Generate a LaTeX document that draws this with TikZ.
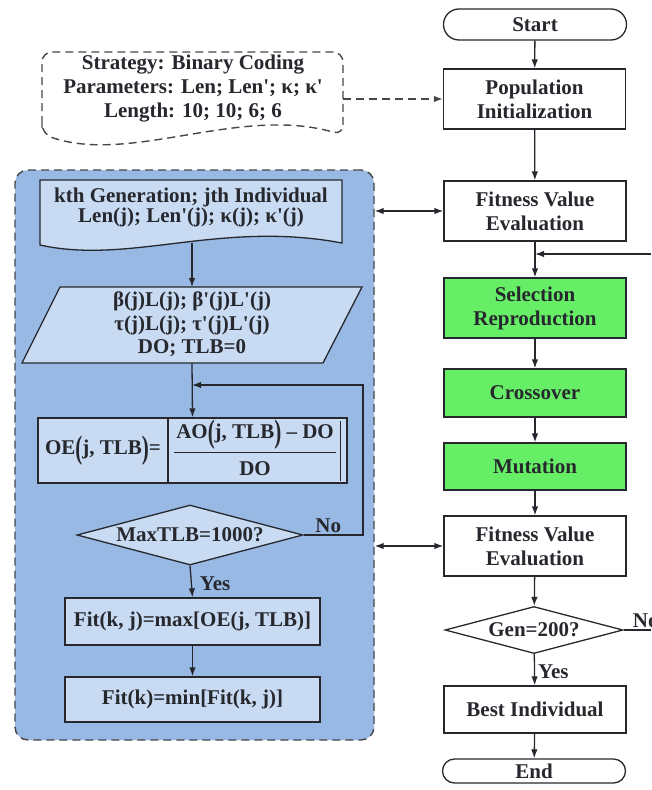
\documentclass[tikz,border=0pt]{standalone}
\usepackage{fontspec}
\setmainfont{Liberation Serif}
\usepackage{graphicx}
\usetikzlibrary{shapes.geometric,shapes.misc,arrows.meta,calc}
\definecolor{linec}{RGB}{38,40,46}
\definecolor{panelc}{RGB}{152,185,228}
\definecolor{innerc}{RGB}{200,219,243}
\definecolor{greenc}{RGB}{102,238,102}
\definecolor{dashc}{RGB}{70,70,75}
\newcommand{\tallp}[1]{\raisebox{-0.22em}{\scalebox{1}[1.55]{#1}}}
\newcommand{\sq}{\textquotesingle}
\begin{document}
\begin{tikzpicture}[x=1pt,y=-1pt,
  every node/.style={font=\fontsize{21}{24}\selectfont\bfseries, text=linec},
  box/.style={draw=linec, line width=1.3pt, rectangle, inner sep=0pt, align=center,
    minimum width=182pt, minimum height=60pt},
  term/.style={draw=linec, line width=1.3pt, rounded rectangle, inner sep=0pt,
    minimum width=183pt},
  gbox/.style={box, fill=greenc},
  ibox/.style={box, fill=innerc},
  dia/.style={draw=linec, line width=1.3pt, diamond, inner sep=0pt},
  arr/.style={draw=linec, line width=1.3pt, -{Latex[length=9pt,width=6.5pt]}},
  darr/.style={draw=linec, line width=1.3pt, {Latex[length=9pt,width=6.5pt]}-{Latex[length=9pt,width=6.5pt]}},
  ln/.style={draw=linec, line width=1.3pt},
  dsh/.style={draw=dashc, line width=1.4pt, dash pattern=on 8pt off 5pt},
  lbl/.style={inner sep=1pt}]
\useasboundingbox (0,0) rectangle (651,790);
\begin{scope}
\clip (0,0) rectangle (651,790);

% ---------- left panel ----------
\node[dsh, fill=panelc, rounded corners=13pt, minimum width=359pt, minimum height=570pt, inner sep=0pt] (panel) at (194.5,455) {};

% strategy document (dashed)
\draw[dsh, fill=white, rounded corners=10pt] (42,134) -- (42,52) -- (343,52) -- (343,135)
  .. controls (240,105) and (130,165) .. (42,134) -- cycle;
\node[align=center, font=\fontsize{21}{24}\selectfont\bfseries] (strat) at (193,89)
  {Strategy: Binary Coding\\Parameters: Len; Len\sq; κ; κ\sq\\Length: 10; 10; 6; 6};

% kth document
\draw[ln, fill=innerc] (40,245) -- (40,180) -- (342,180) -- (342,243)
  .. controls (220,220) and (130,265) .. (40,245) -- cycle;
\node[align=center, font=\fontsize{21}{20}\selectfont\bfseries] (kth) at (191,207)
  {kth Generation; jth Individual\\Len(j); Len\sq(j); κ(j); κ\sq(j)};
\coordinate (kthb) at (192,243);

% parallelogram
\draw[ln, fill=innerc] (60,287) -- (362,287) -- (323,363) -- (22,363) -- cycle;
\node[align=center, font=\fontsize{21}{23.5}\selectfont\bfseries] (para) at (192,324.5)
  {β(j)L(j); β\sq(j)L\sq(j)\\τ(j)L(j); τ\sq(j)L\sq(j)\\DO; TLB=0};
\coordinate (parat) at (192,287);
\coordinate (parab) at (192,363);

% OE box
\node[ibox, minimum width=309pt, minimum height=65pt] (oe) at (192.5,450.5) {};
\draw[ln] (168,418) -- (168,483);
\draw[draw=linec, line width=1pt] (174,452) -- (336,452);
\draw[draw=linec, line width=1pt] (340,421) -- (340,481);
\node (oel) at (103,451) {OE\tallp{(}j, TLB\tallp{)}=};
\node (oen) at (255,435) {AO\tallp{(}j, TLB\tallp{)} – DO};
\node (oed) at (255,469) {DO};

% MaxTLB diamond
\node[dia, fill=innerc, aspect=3.77, minimum width=226pt, minimum height=60pt] (maxtlb) at (190,535) {MaxTLB=1000?};

% Fit boxes
\node[ibox, minimum width=255pt, minimum height=47pt] (fitkj) at (192.5,621.5) {Fit(k, j)=max[OE(j, TLB)]};
\node[ibox, minimum width=255pt, minimum height=45pt] (fitk) at (192.5,699.5) {Fit(k)=min[Fit(k, j)]};

% left connectors
\draw[arr] (kthb) -- (parat);
\draw[arr] (parab) -- (oe.north);
\coordinate (lpR) at (363,535);
\coordinate (lpT) at (363,385);
\coordinate (lpJ) at (192,385);
\draw[arr] (maxtlb.east) -- node[lbl, above, xshift=-5pt, yshift=1pt] (no1) {No} (lpR) -- (lpT) -- (lpJ);
\draw[arr] (maxtlb.south) -- node[lbl, right, xshift=7pt, yshift=-2pt] (yes1) {Yes} (fitkj.north);
\draw[arr] (fitkj) -- (fitk);

% ---------- right column ----------
\node[term, minimum height=31pt] (start) at (535,24.5) {Start};
\node[box, fill=white, minimum height=60pt] (pop) at (534.5,99) {Population\\Initialization};
\node[box, fill=white] (fit1) at (535,211) {Fitness Value\\Evaluation};
\node[gbox] (sel) at (535,308) {Selection\\Reproduction};
\node[gbox, minimum height=48pt] (cross) at (535,393) {Crossover};
\node[gbox, minimum height=47pt] (mut) at (535,466.5) {Mutation};
\node[box, fill=white] (fit2) at (535,546) {Fitness Value\\Evaluation};
\node[dia, fill=white, aspect=3.79, minimum width=178pt, minimum height=47pt] (gen) at (534,630) {Gen=200?};
\node[box, fill=white, minimum height=47pt] (best) at (535,709.5) {Best Individual};
\node[term, minimum height=24pt] (end) at (534,771) {End};

\draw[arr] (start) -- (pop);
\draw[arr] (pop) -- (fit1);
\draw[arr] (fit1) -- (sel);
\draw[arr] (sel) -- (cross);
\draw[arr] (cross) -- (mut);
\draw[arr] (mut) -- (fit2);
\draw[arr] (fit2) -- (gen);
\draw[arr] (gen) -- node[lbl, right, xshift=2pt, yshift=-2pt] (yes2) {Yes} (best);
\draw[arr] (best) -- (end);

\coordinate (fbR) at (651,254);
\coordinate (fbJ) at (535,254);
\draw[arr] (fbR) -- (fbJ);
\coordinate (gnR) at (651,630);
\draw[ln] (gen.east) -- (gnR);
\node[lbl, anchor=south west] (no2) at ($(gen.east)+(8,-1)$) {No};

% strategy dashed arrow
\coordinate (stratR) at (343,99);
\draw[dsh, -{Latex[length=9pt,width=6.5pt]}] (stratR) -- (pop.west);

% double arrows
\draw[darr] (panel.east |- fit1.west) -- (fit1.west);
\draw[darr] (panel.east |- fit2.west) -- (fit2.west);
\end{scope}
\end{tikzpicture}
\end{document}
